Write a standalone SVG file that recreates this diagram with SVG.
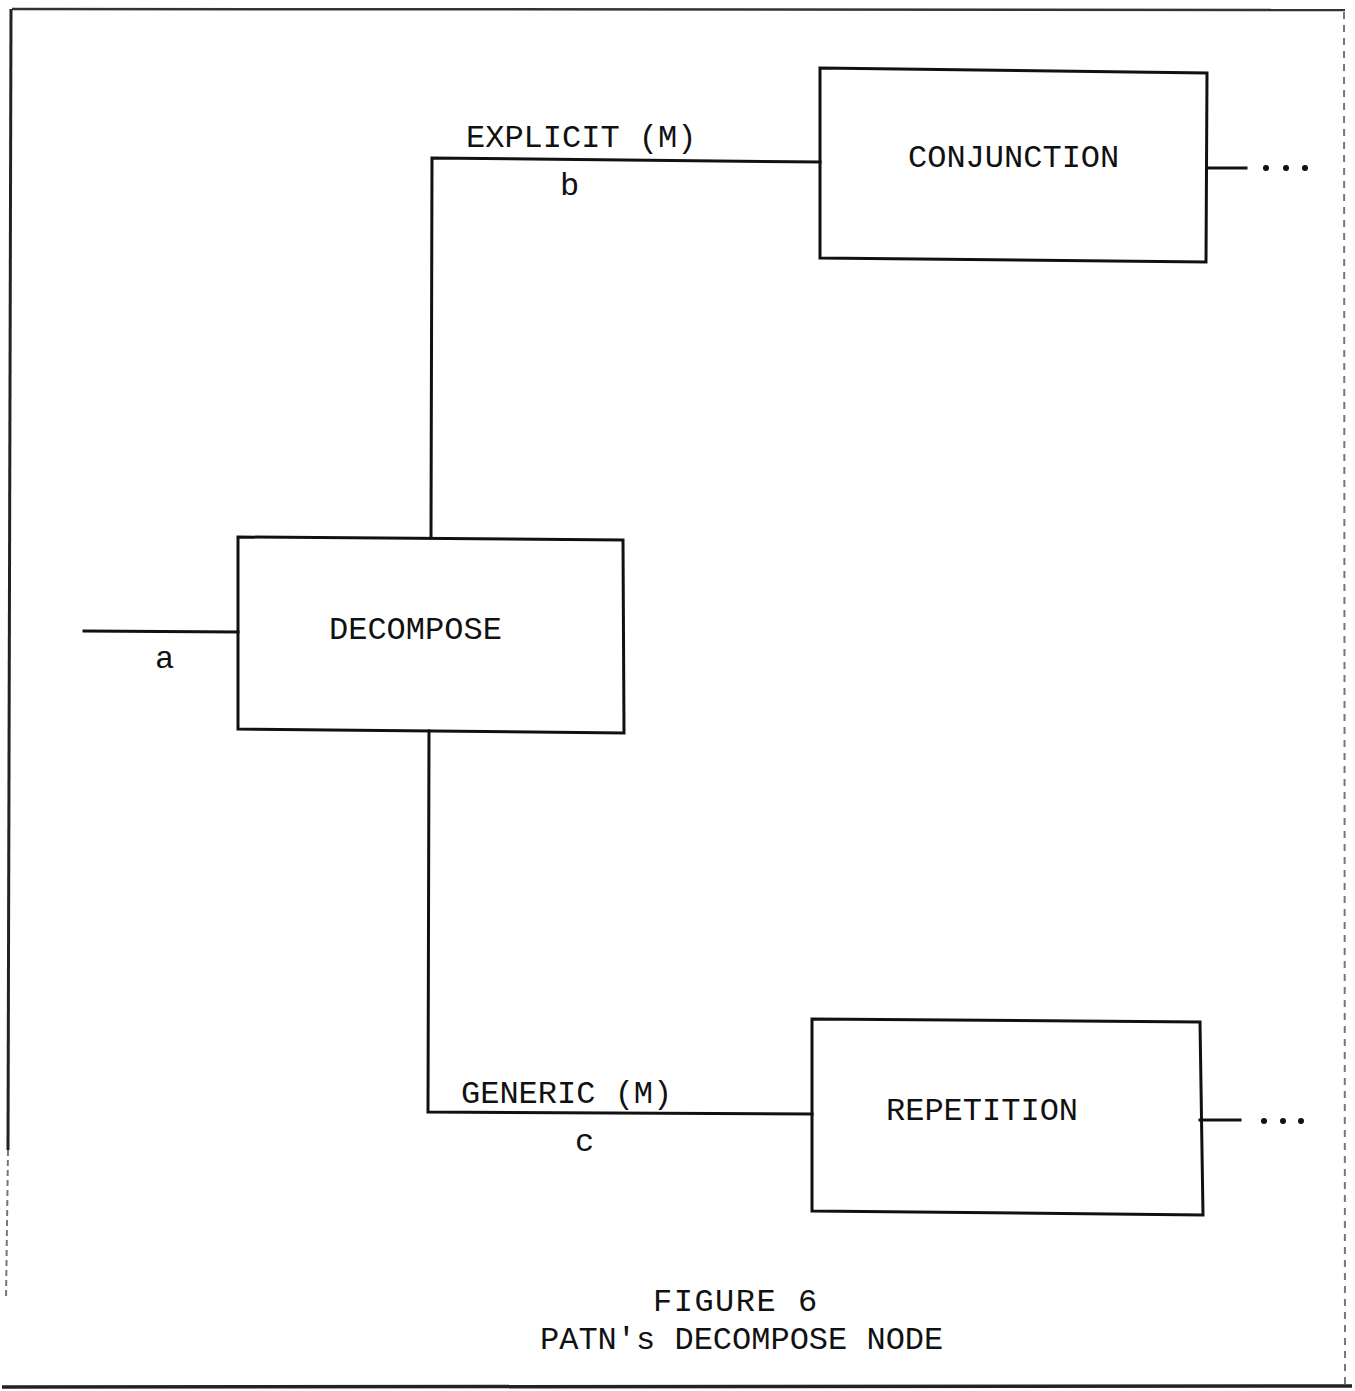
<svg xmlns="http://www.w3.org/2000/svg" width="1355" height="1391" viewBox="0 0 1355 1391">
<style>
.ln{fill:none;stroke:#111;stroke-width:3;stroke-linecap:square;stroke-linejoin:miter}
.bx{fill:none;stroke:#111;stroke-width:3}
.t{font-family:"Liberation Mono","Courier New",monospace;font-size:32px;fill:#111}
.cap{font-family:"Liberation Mono","Courier New",monospace;font-size:32px;fill:#111}
.dot{fill:#111}
</style>
<rect width="1355" height="1391" fill="#fff"/>
<g id="frame">
<line x1="12" y1="9" x2="1345" y2="10" stroke="#333" stroke-width="2.5"/>
<line x1="11" y1="9" x2="8" y2="1150" stroke="#222" stroke-width="3"/>
<line x1="8" y1="1150" x2="6" y2="1300" stroke="#777" stroke-width="2" stroke-dasharray="6 4"/>
<line x1="1344" y1="12" x2="1345" y2="1385" stroke="#777" stroke-width="2" stroke-dasharray="7 6"/>
<line x1="2" y1="1387" x2="1352" y2="1386" stroke="#222" stroke-width="3.5"/>
</g>
<g id="connectors">
<line class="ln" x1="84" y1="631" x2="238" y2="632"/>
<polyline class="ln" points="431,537 432,158 820,162"/>
<polyline class="ln" points="429,731 428,1112 812,1114"/>
<line class="ln" x1="1207" y1="168" x2="1246" y2="168"/>
<line class="ln" x1="1200" y1="1120" x2="1240" y2="1120"/>
<circle class="dot" cx="1266" cy="168" r="3"/>
<circle class="dot" cx="1286" cy="168" r="3"/>
<circle class="dot" cx="1305" cy="168" r="3"/>
<circle class="dot" cx="1264" cy="1121" r="3"/>
<circle class="dot" cx="1283" cy="1121" r="3"/>
<circle class="dot" cx="1301" cy="1121" r="3"/>
<text class="t" x="466" y="147">EXPLICIT (M)</text>
<text class="t" x="560" y="195">b</text>
<text class="t" x="155" y="668">a</text>
<text class="t" x="461" y="1103">GENERIC (M)</text>
<text class="t" x="575" y="1151">c</text>
</g>
<g id="node-decompose">
<polygon class="bx" points="238,537 623,540 624,733 238,729"/>
<text class="t" x="329" y="639">DECOMPOSE</text>
</g>
<g id="node-conjunction">
<polygon class="bx" points="820,68 1207,73 1206,262 820,258"/>
<text class="t" x="908" y="167">CONJUNCTION</text>
</g>
<g id="node-repetition">
<polygon class="bx" points="812,1019 1200,1022 1203,1215 812,1211"/>
<text class="t" x="886" y="1120">REPETITION</text>
</g>
<g id="caption">
<text class="cap" x="653" y="1311" letter-spacing="1.5">FIGURE 6</text>
<text class="cap" x="540" y="1349">PATN's DECOMPOSE NODE</text>
</g>
</svg>
